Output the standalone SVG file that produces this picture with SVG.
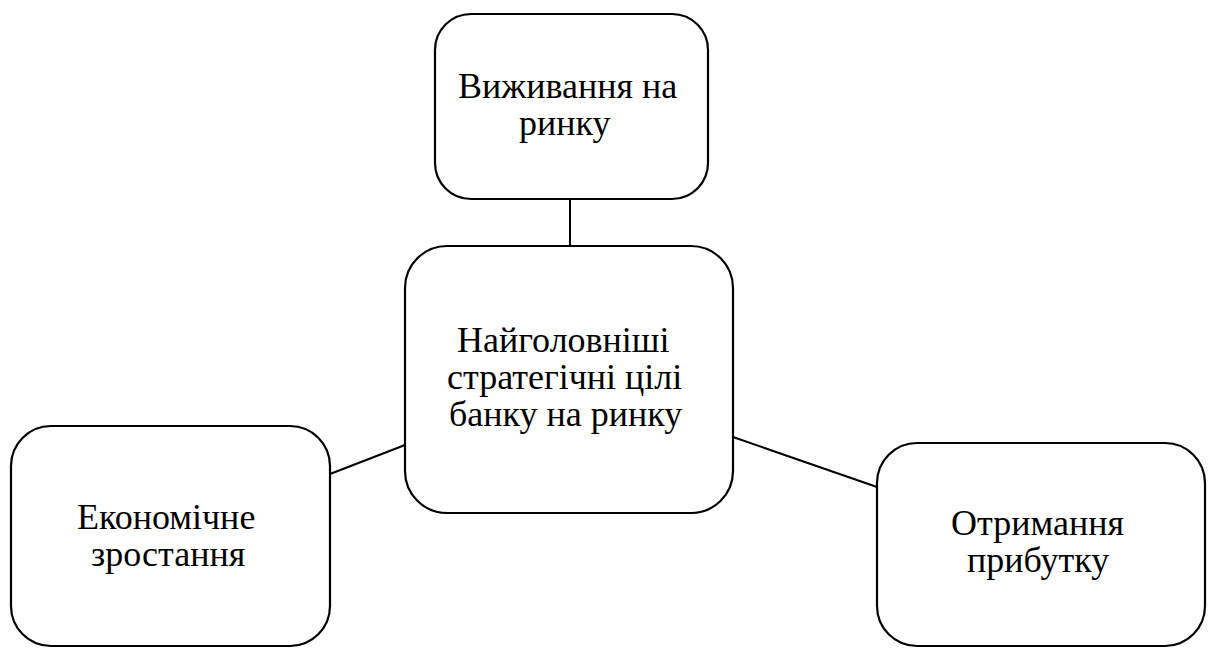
<svg xmlns="http://www.w3.org/2000/svg" width="1213" height="648" viewBox="0 0 1213 648">
  <rect width="1213" height="648" fill="#ffffff"/>

  <!-- connectors between the central goal and its three branches -->
  <g id="connectors" stroke="#000000" stroke-width="2" fill="none">
    <line x1="570" y1="199" x2="570" y2="246"/>
    <line x1="330" y1="474" x2="405" y2="445"/>
    <line x1="733" y1="437" x2="877" y2="487"/>
  </g>

  <!-- labels are left-aligned at their computed line starts -->
  <g id="node-survival">
    <rect x="435" y="14" width="273" height="185" rx="36" ry="36" fill="#ffffff" stroke="#000000" stroke-width="2.2"/>
    <text x="458" y="98" font-family="Liberation Serif" font-size="36">Виживання на</text>
    <text x="519" y="135" font-family="Liberation Serif" font-size="36">ринку</text>
  </g>

  <g id="node-center">
    <rect x="405" y="246" width="328" height="267" rx="42" ry="42" fill="#ffffff" stroke="#000000" stroke-width="2.2"/>
    <text x="457" y="352" font-family="Liberation Serif" font-size="36">Найголовніші</text>
    <text x="447" y="389" font-family="Liberation Serif" font-size="36">стратегічні цілі</text>
    <text x="449" y="426" font-family="Liberation Serif" font-size="36">банку на ринку</text>
  </g>

  <g id="node-growth">
    <rect x="11" y="426" width="319" height="220" rx="40" ry="40" fill="#ffffff" stroke="#000000" stroke-width="2.2"/>
    <text x="77" y="529" font-family="Liberation Serif" font-size="36">Економічне</text>
    <text x="91" y="566" font-family="Liberation Serif" font-size="36">зростання</text>
  </g>

  <g id="node-profit">
    <rect x="877" y="443" width="328" height="203" rx="40" ry="40" fill="#ffffff" stroke="#000000" stroke-width="2.2"/>
    <text x="951" y="535" font-family="Liberation Serif" font-size="36">Отримання</text>
    <text x="967" y="572" font-family="Liberation Serif" font-size="36">прибутку</text>
  </g>
</svg>
